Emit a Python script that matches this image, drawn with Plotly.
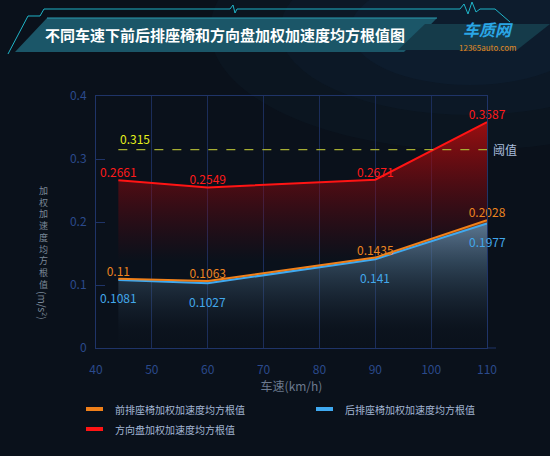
import plotly.graph_objects as go

# values as printed on the chart
speed = [44, 60, 90, 110]
front_seat = [0.11, 0.1063, 0.1435, 0.2028]
rear_seat = [0.1081, 0.1027, 0.141, 0.1977]
steering = [0.2661, 0.2549, 0.2671, 0.3587]
threshold = 0.315

names = ["前排座椅加权加速度均方根值", "后排座椅加权加速度均方根值", "方向盘加权加速度均方根值"]
colors = ["#f0801a", "#3fa9f0", "#ff1414"]

W, H = 550, 456
L, R, T, B = 96, 63, 96, 108
FONT = "Noto Sans CJK SC"


def to_paper(px, py):
    return (px - L) / (W - L - R), (H - B - py) / (H - T - B)


def path(points, close=True):
    pts = [to_paper(x, y) for x, y in points]
    s = "M " + " L ".join(f"{x:.4f},{y:.4f}" for x, y in pts)
    return s + (" Z" if close else "")


def note(px, py, text, anchor="center", **kw):
    x, y = to_paper(px, py)
    fig.add_annotation(x=x, y=y, xref="paper", yref="paper", text=text, showarrow=False,
                       xanchor=anchor, yanchor="middle", **kw)


fig = go.Figure()

fig.add_trace(go.Scatter(
    x=speed, y=steering, mode="lines+text",
    text=[f"{v:g}" for v in steering], textposition="top center",
    textfont=dict(color="#ff1a1a", size=12),
    line=dict(color=colors[2], width=2),
    fill="tozeroy",
    fillgradient=dict(type="vertical", start=0, stop=0.36,
                      colorscale=[[0, "rgba(110,0,10,0)"], [0.38, "rgba(110,0,10,0)"],
                                  [1, "rgba(170,14,14,0.9)"]]),
    cliponaxis=False, showlegend=False, hoverinfo="skip"))

fig.add_trace(go.Scatter(
    x=speed, y=rear_seat, mode="lines",
    line=dict(color=colors[1], width=2),
    fill="tozeroy",
    fillgradient=dict(type="vertical", start=0, stop=0.2,
                      colorscale=[[0, "rgba(40,60,80,0)"], [0.15, "rgba(40,60,80,0.05)"],
                                  [1, "rgba(100,140,170,0.85)"]]),
    showlegend=False, hoverinfo="skip"))

fig.add_trace(go.Scatter(
    x=speed, y=front_seat, mode="lines+text",
    text=[f"{v:g}" for v in front_seat], textposition="top center",
    textfont=dict(color="#ec8420", size=12),
    line=dict(color=colors[0], width=2),
    fill="tonexty", fillcolor="rgba(190,95,20,0.6)",
    cliponaxis=False, showlegend=False, hoverinfo="skip"))

# rear seat labels sit a little further below their line
for sx, v in zip(speed, rear_seat):
    fig.add_annotation(x=sx, y=v, xref="x", yref="y", text=f"{v:g}", showarrow=False,
                       xanchor="center", yanchor="middle", yshift=-18,
                       font=dict(color="#42a8ec", size=12, family=FONT))

fig.add_trace(go.Scatter(
    x=[speed[0], speed[-1]], y=[threshold, threshold], mode="lines",
    line=dict(color="#a6ae32", width=1.2, dash="dash"),
    showlegend=False, hoverinfo="skip"))

fig.add_annotation(x=speed[0], y=threshold, xref="x", yref="y", text=f"{threshold:g}",
                   showarrow=False, xanchor="left", yanchor="bottom", yshift=1,
                   font=dict(color="#e6f01a", size=12, family=FONT))
fig.add_annotation(x=speed[-1], y=threshold, xref="x", yref="y", text="阈值",
                   showarrow=False, xanchor="left", yanchor="middle", xshift=4,
                   font=dict(color="#a9bedc", size=12, family=FONT))

# vertical y-axis title
note(43, 237, "<br>".join("加权加速度均方根值"),
     font=dict(color="#7b8898", size=9, family=FONT))
note(43, 305, "(m/s<sup>2</sup>)", textangle=90,
     font=dict(color="#7b8898", size=10, family=FONT))

P = dict(xref="paper", yref="paper")
shapes = []

# background glow, top right
for rx, ry, a in [(260, 120, 0.05), (190, 85, 0.06), (120, 55, 0.07)]:
    x0, y0 = to_paper(470 - rx, 30 - ry)
    x1, y1 = to_paper(470 + rx, 30 + ry)
    shapes.append(dict(type="circle", x0=x0, x1=x1, y0=y0, y1=y1, layer="below",
                       fillcolor=f"rgba(30,90,140,{a})", line=dict(width=0), **P))

# title banner
shapes += [
    dict(type="path", path=path([(47, 18), (437, 18), (404, 52), (15, 52)]),
         fillcolor="#1b5668", line=dict(width=0), layer="below", **P),
    dict(type="path", path=path([(425, 24), (550, 24), (517, 50), (398, 50)]),
         fillcolor="#153b4a", line=dict(width=0), layer="below", **P),
    dict(type="path", path=path([(47, 18), (437, 18)], close=False),
         line=dict(color="#2a9bb0", width=1), **P),
    dict(type="path",
         path=path([(8, 54), (28, 16), (40, 16), (44, 9), (230, 9), (233, 5), (235, 13),
                    (237, 9), (460, 9), (464, 4), (468, 14), (472, 2), (476, 12),
                    (480, 9), (495, 9), (510, 22)], close=False),
         line=dict(color="#1fb4c8", width=1), **P),
    dict(type="line", x0=1, x1=to_paper(496, 0)[0], y0=0, y1=0,
         line=dict(color="#1f3468", width=1), **P),
]

note(225, 35, "<b>不同车速下前后排座椅和方向盘加权加速度均方根值图</b>",
     font=dict(color="#ffffff", size=15, family=FONT))
note(488, 29, "<b><i>车质网</i></b>", font=dict(color="#2aa6e6", size=16, family=FONT))
note(487, 47, "12365auto.com", font=dict(color="#e08a24", size=8, family=FONT))

# legend: two columns, drawn below the axis title
for n, c, (lx, ly) in zip(names, colors, [(86, 409), (316, 409), (86, 429)]):
    x0, y0 = to_paper(lx, ly)
    x1, _ = to_paper(lx + 17, ly)
    shapes.append(dict(type="line", x0=x0, x1=x1, y0=y0, y1=y0,
                       line=dict(color=c, width=4), **P))
    note(lx + 27, ly, n, anchor="left", font=dict(color="#a3b6d4", size=10, family=FONT))

fig.update_layout(
    width=W, height=H,
    margin=dict(l=L, r=R, t=T, b=B),
    paper_bgcolor="#0a111b", plot_bgcolor="rgba(0,0,0,0)",
    font=dict(family=FONT, color="#a3b6d4"),
    shapes=shapes,
    showlegend=False,
    xaxis=dict(range=[40, 110], dtick=10, showgrid=True, gridcolor="#1b2d5a", gridwidth=1,
               showline=True, linecolor="#1f3468", mirror=True, zeroline=False,
               ticks="", ticklabelstandoff=11,
               tickfont=dict(color="#2b4a8c", size=12),
               title=dict(text="车速(km/h)", standoff=6,
                          font=dict(color="#6c7a8e", size=12))),
    yaxis=dict(range=[0, 0.4], dtick=0.1, showgrid=False, showline=True,
               linecolor="#1f3468", mirror=True, zeroline=False,
               ticks="inside", ticklen=9, tickcolor="#1f3468", ticklabelstandoff=6,
               tickfont=dict(color="#2b4a8c", size=12)),
)

fig.write_html("out.html", config={"displayModeBar": False},
               post_script="document.body.style.margin='0';")
